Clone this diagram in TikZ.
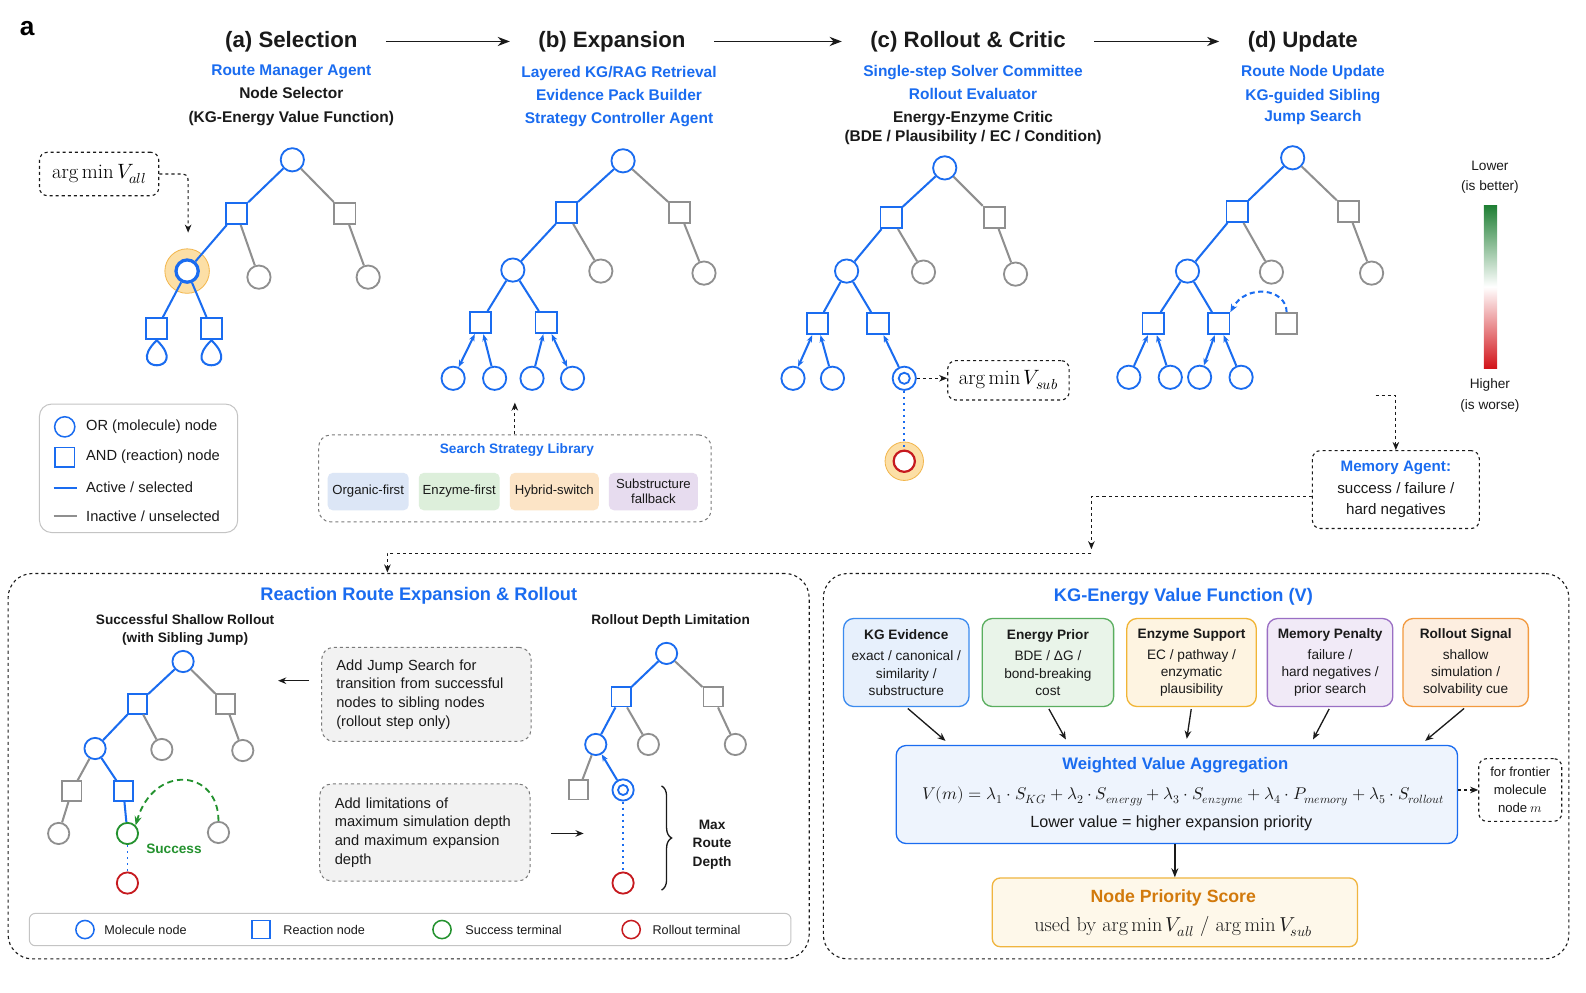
\documentclass[tikz,border=0pt]{standalone}
\usepackage{amsmath}
\usepackage{fontspec}
\usepackage{unicode-math}
\setmathfont{Latin Modern Math}
\setsansfont{Liberation Sans}
\usepackage{xcolor}
\usepackage{tikz}
\usetikzlibrary{calc,positioning,arrows.meta,decorations.pathreplacing}
\definecolor{rbblue}{HTML}{1A6CF0}
\definecolor{rbgray}{HTML}{8F8F8F}
\definecolor{rbdash}{HTML}{7A7A7A}
\definecolor{rbtext}{HTML}{1A1A1A}
\definecolor{rbred}{HTML}{C61A1F}
\definecolor{rbgreen}{HTML}{24922F}
\definecolor{rbhalo}{HTML}{FCDFA6}
\definecolor{rbhaloedge}{HTML}{F2B64C}
\definecolor{rborange}{HTML}{D27A0C}
\definecolor{cbgreen}{HTML}{1F7F34}
\definecolor{cbred}{HTML}{D2141A}
\definecolor{kgline}{HTML}{3C8BEF}
\definecolor{kgfill}{HTML}{E7F0FC}
\definecolor{enline}{HTML}{5AAE5F}
\definecolor{enfill}{HTML}{E9F4E9}
\definecolor{ezline}{HTML}{F1B536}
\definecolor{ezfill}{HTML}{FEF4E1}
\definecolor{mmline}{HTML}{9A6FC4}
\definecolor{mmfill}{HTML}{F1EAF7}
\definecolor{roline}{HTML}{F29A40}
\definecolor{rofill}{HTML}{FDEEE0}
\definecolor{chipblue}{HTML}{DCE6F6}
\definecolor{chipgreen}{HTML}{DDEFDB}
\definecolor{chiporange}{HTML}{FCE4C6}
\definecolor{chippurple}{HTML}{E7DCEF}
\definecolor{notefill}{HTML}{F2F2F2}
\definecolor{aggfill}{HTML}{EEF4FD}
\definecolor{prifill}{HTML}{FEF8EA}
\definecolor{priline}{HTML}{F0B540}
\definecolor{legline}{HTML}{C4C4C4}

\tikzset{
  ornode/.style={circle, draw=rbblue, fill=white, line width=1.8pt, minimum size=23pt, inner sep=0pt},
  andnode/.style={rectangle, draw=rbblue, fill=white, line width=1.8pt, minimum size=21pt, inner sep=0pt},
  offor/.style={ornode, draw=rbgray},
  offand/.style={andnode, draw=rbgray},
  hot/.style={draw=rbblue, line width=2pt},
  cold/.style={draw=rbgray, line width=2pt},
  backedge/.style={hot, -{Stealth[length=7pt,width=5.5pt]}},
  twoedge/.style={hot, {Stealth[length=7pt,width=5.5pt]}-{Stealth[length=7pt,width=5.5pt]}},
  dotlink/.style={draw=rbblue, line width=1.8pt, dash pattern=on 2pt off 4pt},
  halo/.style={circle, fill=rbhalo, draw=rbhaloedge, line width=0.8pt, minimum size=44pt, inner sep=0pt},
  linkdash/.style={draw=rbtext, dashed, line width=1.1pt, -{Stealth[length=8pt,width=6.5pt]}},
  stagearrow/.style={draw=rbtext, line width=1.9pt, -{Stealth[length=12pt,width=9pt]}, shorten <=28pt, shorten >=28pt},
  plainarrow/.style={draw=rbtext, line width=1.3pt, -{Stealth[length=8pt,width=6.5pt]}},
  dashbox/.style={draw=rbtext, dashed, line width=1.1pt, rounded corners=8pt, fill=white, inner sep=0pt},
  notebox/.style={draw=rbdash, dashed, line width=1pt, rounded corners=12pt, fill=notefill},
  bigframe/.style={draw=rbtext, dashed, line width=1.1pt, rounded corners=24pt},
  legframe/.style={draw=legline, line width=1pt, rounded corners=12pt},
  chip/.style={rounded corners=5pt, minimum height=37pt, inner sep=2pt, align=center, font=\sffamily\fontsize{13}{15}\selectfont, text=rbtext},
  kgbox/.style={rounded corners=10pt, line width=1.3pt, minimum width=124pt, minimum height=87pt, align=center, inner sep=2pt, font=\sffamily\fontsize{13.5}{17}\selectfont, text=rbtext},
  stagetitle/.style={inner sep=0pt, font=\sffamily\bfseries\fontsize{22}{26}\selectfont, text=rbtext},
  stagesub/.style={inner sep=0pt, anchor=north, align=center, font=\sffamily\bfseries\fontsize{15.3}{23}\selectfont, text=rbtext},
  legtxt/.style={inner sep=0pt, anchor=west, font=\sffamily\fontsize{14.5}{16}\selectfont, text=rbtext},
  smalltxt/.style={inner sep=0pt, anchor=west, font=\sffamily\fontsize{12.5}{15}\selectfont, text=rbtext},
  headtxt/.style={inner sep=0pt, align=center, font=\sffamily\bfseries\fontsize{13.5}{18}\selectfont, text=rbtext},
  bluehead/.style={inner sep=0pt, font=\sffamily\bfseries\fontsize{18}{22}\selectfont, text=rbblue},
}

\begin{document}
\begin{tikzpicture}[x=1pt, y=-1pt]
        \fill[white] (0,0) rectangle (1568,981);
        \useasboundingbox (0,0) rectangle (1568,981);

        \node[inner sep=0pt, font=\sffamily\bfseries\fontsize{26}{30}\selectfont] (panel) at (27,28) {a};

        % ----------------------------------------------------
        % STAGE HEADINGS
        % ----------------------------------------------------
        \node[stagetitle] (ta) at (288,41) {(a) Selection};
        \node[stagetitle] (tb) at (605,41) {(b) Expansion};
        \node[stagetitle] (tc) at (957,41) {(c) Rollout \& Critic};
        \node[stagetitle] (td) at (1288,41) {(d) Update};
        \draw[stagearrow] (ta) -- (tb);
        \draw[stagearrow] (tb) -- (tc);
        \draw[stagearrow] (tc) -- (td);

        \node[stagesub] (sa) at (288,64) {\textcolor{rbblue}{Route Manager Agent}\\Node Selector\\(KG-Energy Value Function)};
        \node[stagesub] (sb) at (612,65) {\textcolor{rbblue}{Layered KG/RAG Retrieval}\\\textcolor{rbblue}{Evidence Pack Builder}\\\textcolor{rbblue}{Strategy Controller Agent}};
        \node[stagesub] (sc) at (962,64) {\textcolor{rbblue}{Single-step Solver Committee}\\\textcolor{rbblue}{Rollout Evaluator}\\Energy-Enzyme Critic\\[-4pt](BDE / Plausibility / EC / Condition)};
        \node[stagesub, text=rbblue] (sd) at (1298,64) {Route Node Update\\[1pt]KG-guided Sibling\\[-2pt]Jump Search};

        % ----------------------------------------------------
        % (a) SELECTION TREE
        % ----------------------------------------------------
        \node[ornode] (a0) at (289,158) {};
        \node[andnode] (a1) at (234,211) {};
        \node[offand] (a2) at (341,211) {};
        \node[halo] (ahalo) at (185,268) {};
        \node[ornode, line width=3.2pt, minimum size=22pt] (a3) at (185,268) {};
        \node[offor] (a4) at (256,274) {};
        \node[offor] (a5) at (364,274) {};
        \node[andnode] (a6) at (155,325) {};
        \node[andnode] (a7) at (209,325) {};
        \draw[hot] (a0) -- (a1);
        \draw[cold] (a0) -- (a2);
        \draw[hot] (a1) -- (a3);
        \draw[cold] (a1) -- (a4);
        \draw[cold] (a2) -- (a5);
        \draw[hot] (a3) -- (a6);
        \draw[hot] (a3) -- (a7);
        \draw[hot] (a6.south) .. controls +(-34,33) and +(34,33) .. (a6.south);
        \draw[hot] (a7.south) .. controls +(-34,33) and +(34,33) .. (a7.south);

        \node[dashbox, minimum width=118pt, minimum height=43pt, font=\fontsize{20.5}{24}\selectfont] (argall) at (98,172) {$\arg\min V_{all}$};
        \coordinate (selpick) at (186,230);
        \draw[linkdash] (argall.east) -- (175,172) .. controls (186,172) .. (186,184) -- (selpick);

        % legend of the search tree
        \node[legframe, minimum width=196pt, minimum height=127pt] (lega) at (137,463) {};
        \node[ornode, minimum size=20pt, line width=1.5pt] (lgor) at (64,422) {};
        \node[legtxt] (lgortx) at (85,422) {OR (molecule) node};
        \node[andnode, minimum size=19pt, line width=1.5pt] (lgand) at (64,452) {};
        \node[legtxt] (lgandtx) at (85,452) {AND (reaction) node};
        \draw[hot] (53,482) -- (76,482);
        \node[legtxt] (lghot) at (85,482) {Active / selected};
        \draw[cold] (53,510) -- (76,510);
        \node[legtxt] (lgcold) at (85,510) {Inactive / unselected};

        % ----------------------------------------------------
        % (b) EXPANSION TREE
        % ----------------------------------------------------
        \node[ornode] (b0) at (616,159) {};
        \node[andnode] (b1) at (560,210) {};
        \node[offand] (b2) at (672,210) {};
        \node[ornode] (b3) at (507,267) {};
        \node[offor] (b4) at (594,268) {};
        \node[offor] (b5) at (696,270) {};
        \node[andnode] (b6) at (475,319) {};
        \node[andnode] (b7) at (540,319) {};
        \node[ornode] (b8) at (448,374) {};
        \node[ornode] (b9) at (489,374) {};
        \node[ornode] (b10) at (526,374) {};
        \node[ornode] (b11) at (566,374) {};
        \draw[hot] (b0) -- (b1);
        \draw[cold] (b0) -- (b2);
        \draw[hot] (b1) -- (b3);
        \draw[cold] (b1) -- (b4);
        \draw[cold] (b2) -- (b5);
        \draw[hot] (b3) -- (b6);
        \draw[hot] (b3) -- (b7);
        \draw[twoedge] (b6) -- (b8);
        \draw[backedge] (b9) -- (b6);
        \draw[backedge] (b10) -- (b7);
        \draw[twoedge] (b7) -- (b11);

        \node[notebox, fill=white, minimum width=388pt, minimum height=86pt] (lib) at (509,473) {};
        \node[inner sep=0pt, font=\sffamily\bfseries\fontsize{13.5}{16}\selectfont, text=rbblue] (libtitle) at (511,445) {Search Strategy Library};
        \node[chip, fill=chipblue, minimum width=80pt] (chorg) at (364,486) {Organic-first};
        \node[chip, fill=chipgreen, minimum width=80pt] (chenz) at (454,486) {Enzyme-first};
        \node[chip, fill=chiporange, minimum width=88pt] (chhyb) at (548,486) {Hybrid-switch};
        \node[chip, fill=chippurple, minimum width=88pt] (chsub) at (646,486) {Substructure\\fallback};
        \coordinate (libtip) at (509,398);
        \draw[linkdash] (lib.north) -- (libtip);

        % ----------------------------------------------------
        % (c) ROLLOUT & CRITIC TREE
        % ----------------------------------------------------
        \node[ornode] (c0) at (934,166) {};
        \node[andnode] (c1) at (881,215) {};
        \node[offand] (c2) at (983,215) {};
        \node[ornode] (c3) at (837,268) {};
        \node[offor] (c4) at (913,269) {};
        \node[offor] (c5) at (1004,271) {};
        \node[andnode] (c6) at (808,320) {};
        \node[andnode] (c7) at (868,320) {};
        \node[ornode] (c8) at (784,374) {};
        \node[ornode] (c9) at (823,374) {};
        \node[ornode] (c10) at (894,374) {};
        \draw[rbblue, line width=1.8pt] (c10) circle (5.5);
        \node[halo, minimum size=38pt] (c11halo) at (894,456) {};
        \node[ornode, draw=rbred, line width=2.2pt, minimum size=21pt] (c11) at (894,456) {};
        \draw[hot] (c0) -- (c1);
        \draw[cold] (c0) -- (c2);
        \draw[hot] (c1) -- (c3);
        \draw[cold] (c1) -- (c4);
        \draw[cold] (c2) -- (c5);
        \draw[hot] (c3) -- (c6);
        \draw[hot] (c3) -- (c7);
        \draw[twoedge] (c6) -- (c8);
        \draw[backedge] (c9) -- (c6);
        \draw[backedge] (c10) -- (c7);
        \draw[dotlink] (c10) -- (c11);

        \node[dashbox, minimum width=120pt, minimum height=39pt, font=\fontsize{20.5}{24}\selectfont] (argsub) at (997,376) {$\arg\min V_{sub}$};
        \draw[linkdash] (c10.east) -- (argsub.west |- c10.east);

        % ----------------------------------------------------
        % (d) UPDATE TREE
        % ----------------------------------------------------
        \node[ornode] (d0) at (1278,156) {};
        \node[andnode] (d1) at (1223,209) {};
        \node[offand] (d2) at (1333,209) {};
        \node[ornode] (d3) at (1174,268) {};
        \node[offor] (d4) at (1257,269) {};
        \node[offor] (d5) at (1356,270) {};
        \node[andnode] (d6) at (1140,320) {};
        \node[andnode] (d7) at (1205,320) {};
        \node[offand] (d8) at (1272,320) {};
        \node[ornode] (d9) at (1116,373) {};
        \node[ornode] (d10) at (1157,373) {};
        \node[ornode] (d11) at (1186,373) {};
        \node[ornode] (d12) at (1227,373) {};
        \draw[hot] (d0) -- (d1);
        \draw[cold] (d0) -- (d2);
        \draw[hot] (d1) -- (d3);
        \draw[cold] (d1) -- (d4);
        \draw[cold] (d2) -- (d5);
        \draw[hot] (d3) -- (d6);
        \draw[hot] (d3) -- (d7);
        \draw[backedge] (d9) -- (d6);
        \draw[backedge] (d10) -- (d6);
        \draw[twoedge] (d7) -- (d11);
        \draw[backedge] (d12) -- (d7);
        \draw[hot, dash pattern=on 5pt off 3.5pt, -{Stealth[length=8pt,width=6.5pt]}] (d8.north) .. controls (1272,285) and (1232,280) .. (d7.north east);

        % value scale
        \shade[top color=cbgreen, bottom color=cbred, middle color=white] (1467,203) rectangle (1480,364);
        \node[inner sep=0pt, align=center, font=\sffamily\fontsize{13.5}{20}\selectfont, text=rbtext] (lowtx) at (1473,175) {Lower\\(is better)};
        \node[inner sep=0pt, align=center, font=\sffamily\fontsize{13.5}{20}\selectfont, text=rbtext] (hightx) at (1473,391) {Higher\\(is worse)};

        % ----------------------------------------------------
        % MEMORY AGENT
        % ----------------------------------------------------
        \node[dashbox, minimum width=165pt, minimum height=77pt, align=center, font=\sffamily\fontsize{15}{21}\selectfont, text=rbtext] (mem) at (1380,484) {\textcolor{rbblue}{\bfseries Memory Agent:}\\success / failure /\\hard negatives};
        \coordinate (dtail) at (1360,391);
        \draw[linkdash] (dtail) -| (mem.north);
        \coordinate (mbend) at (1079,491);
        \coordinate (mjoin) at (1079,543);
        \coordinate (rtop) at (383,566);
        \draw[linkdash] (mem.west |- mbend) -- (mbend) -- (mjoin);
        \draw[linkdash] (1079,547) -| (rtop);

        % ----------------------------------------------------
        % REACTION ROUTE EXPANSION & ROLLOUT
        % ----------------------------------------------------
        \node[bigframe, minimum width=792pt, minimum height=381pt] (rre) at (404,757.5) {};
        \node[bluehead] (rretitle) at (414,589) {Reaction Route Expansion \& Rollout};
        \node[headtxt] (shallow) at (183,623) {Successful Shallow Rollout\\(with Sibling Jump)};
        \node[headtxt] (depthlim) at (663,614) {Rollout Depth Limitation};

        \node[ornode, minimum size=21pt] (l0) at (181,654) {};
        \node[andnode, minimum size=19pt] (l1) at (136,696) {};
        \node[offand, minimum size=19pt] (l2) at (223,696) {};
        \node[ornode, minimum size=21pt] (l3) at (94,740) {};
        \node[offor, minimum size=21pt] (l4) at (160,741) {};
        \node[offor, minimum size=21pt] (l5) at (240,742) {};
        \node[offand, minimum size=19pt] (l6) at (71,782) {};
        \node[andnode, minimum size=19pt] (l7) at (122,782) {};
        \node[offor, minimum size=21pt] (l8) at (58,824) {};
        \node[ornode, draw=rbgreen, minimum size=21pt] (l9) at (126,824) {};
        \node[offor, minimum size=21pt] (l10) at (216,823) {};
        \node[ornode, draw=rbred, minimum size=21pt] (l11) at (126,873) {};
        \draw[hot] (l0) -- (l1);
        \draw[cold] (l0) -- (l2);
        \draw[hot] (l1) -- (l3);
        \draw[cold] (l1) -- (l4);
        \draw[cold] (l2) -- (l5);
        \draw[cold] (l3) -- (l6);
        \draw[hot] (l3) -- (l7);
        \draw[cold] (l6) -- (l8);
        \draw[hot] (l7) -- (l9);
        \draw[dotlink] (l9) -- (l11);
        \draw[rbgreen, line width=1.8pt, dash pattern=on 6pt off 4pt, -{Stealth[length=9pt,width=7pt]}] (l10.north) .. controls (216,760) and (152,755) .. (l9.north east);
        \node[inner sep=0pt, font=\sffamily\bfseries\fontsize{13.5}{16}\selectfont, text=rbgreen] (success) at (172,839) {Success};

        \node[notebox, text width=178pt, inner xsep=14.5pt, minimum height=93pt, align=left, font=\sffamily\fontsize{14.5}{18.5}\selectfont, text=rbtext] (jump) at (421.5,686.5) {Add Jump Search for\\transition from successful\\nodes to sibling nodes\\(rollout step only)};
        \node[notebox, text width=178pt, inner xsep=15pt, minimum height=96pt, align=left, font=\sffamily\fontsize{14.5}{18.5}\selectfont, text=rbtext] (limit) at (420,823) {Add limitations of\\maximum simulation depth\\and maximum expansion\\depth};
        \coordinate (jumptip) at (275,673);
        \coordinate (limtip) at (577,824);
        \draw[plainarrow, shorten <=12pt] (jump.west |- jumptip) -- (jumptip);
        \draw[plainarrow, shorten <=20pt] (limit.east |- limtip) -- (limtip);

        \node[ornode, minimum size=21pt] (r0) at (659,646) {};
        \node[andnode, minimum size=19pt] (r1) at (614,689) {};
        \node[offand, minimum size=19pt] (r2) at (705,689) {};
        \node[ornode, minimum size=21pt] (r3) at (589,736) {};
        \node[offor, minimum size=21pt] (r4) at (641,736) {};
        \node[offor, minimum size=21pt] (r5) at (727,736) {};
        \node[offand, minimum size=19pt] (r6) at (572,781) {};
        \node[ornode, minimum size=21pt] (r7) at (616,781) {};
        \draw[rbblue, line width=1.8pt] (r7) circle (5);
        \node[ornode, draw=rbred, minimum size=21pt] (r8) at (616,873) {};
        \draw[hot] (r0) -- (r1);
        \draw[cold] (r0) -- (r2);
        \draw[hot] (r1) -- (r3);
        \draw[cold] (r1) -- (r4);
        \draw[cold] (r2) -- (r5);
        \draw[cold] (r3) -- (r6);
        \draw[backedge] (r7) -- (r3);
        \draw[dotlink] (r7) -- (r8);
        \draw[rbtext, line width=1.3pt, decorate, decoration={brace, amplitude=10pt}] (654,777) -- (654,880);
        \node[headtxt] (maxdepth) at (704,835) {Max\\Route\\Depth};

        % legend of the route panel
        \node[legframe, rounded corners=6pt, minimum width=753pt, minimum height=32pt] (legb) at (405.5,919) {};
        \node[ornode, minimum size=18pt, line width=1.5pt] (lbmol) at (84,919) {};
        \node[smalltxt] (lbmoltx) at (103,919) {Molecule node};
        \node[andnode, minimum size=18pt, line width=1.5pt] (lbrxn) at (258,919) {};
        \node[smalltxt] (lbrxntx) at (280,919) {Reaction node};
        \node[ornode, draw=rbgreen, minimum size=18pt, line width=1.5pt] (lbok) at (437,919) {};
        \node[smalltxt] (lboktx) at (460,919) {Success terminal};
        \node[ornode, draw=rbred, minimum size=18pt, line width=1.5pt] (lbend) at (624,919) {};
        \node[smalltxt] (lbendtx) at (645,919) {Rollout terminal};

        % ----------------------------------------------------
        % KG-ENERGY VALUE FUNCTION
        % ----------------------------------------------------
        \node[bigframe, minimum width=737pt, minimum height=381pt] (kgv) at (1182.5,757.5) {};
        \node[bluehead] (kgvtitle) at (1170,590) {KG-Energy Value Function (V)};

        \node[kgbox, draw=kgline, fill=kgfill] (kge) at (896,655) {{\bfseries KG Evidence}\\[4pt]exact / canonical /\\similarity /\\substructure};
        \node[kgbox, draw=enline, fill=enfill, minimum width=130pt] (enp) at (1036,655) {{\bfseries Energy Prior}\\[4pt]BDE / ΔG /\\bond-breaking\\cost};
        \node[kgbox, draw=ezline, fill=ezfill, minimum width=128pt] (ezs) at (1178,655) {{\bfseries Enzyme Support}\\[4pt]EC / pathway /\\enzymatic\\plausibility};
        \node[kgbox, draw=mmline, fill=mmfill] (mmp) at (1315,655) {{\bfseries Memory Penalty}\\[4pt]failure /\\hard negatives /\\prior search};
        \node[kgbox, draw=roline, fill=rofill] (ros) at (1449,655) {{\bfseries Rollout Signal}\\[4pt]shallow\\simulation /\\solvability cue};

        \node[rounded corners=10pt, draw=rbblue, line width=1.3pt, fill=aggfill, minimum width=555pt, minimum height=97pt] (agg) at (1163.5,785.5) {};
        \node[inner sep=0pt, font=\sffamily\bfseries\fontsize{16.5}{20}\selectfont, text=rbblue] (aggtitle) at (1162,757) {Weighted Value Aggregation};
        \node[inner sep=0pt, font=\fontsize{16.8}{20}\selectfont, text=rbtext] (aggeq) at (1170,787) {$V(m) = \lambda_1 \cdot S_{KG} + \lambda_2 \cdot S_{energy} + \lambda_3 \cdot S_{enzyme} + \lambda_4 \cdot P_{memory} + \lambda_5 \cdot S_{rollout}$};
        \node[inner sep=0pt, font=\sffamily\fontsize{16}{20}\selectfont, text=rbtext] (aggnote) at (1158,814) {Lower value = higher expansion priority};

        \draw[plainarrow, shorten <=2pt, shorten >=6pt] (kge.south) -- ($(agg.north west)!0.097!(agg.north east)$);
        \draw[plainarrow, shorten <=2pt, shorten >=6pt] (enp.south) -- ($(agg.north west)!0.308!(agg.north east)$);
        \draw[plainarrow, shorten <=2pt, shorten >=6pt] (ezs.south) -- ($(agg.north west)!0.516!(agg.north east)$);
        \draw[plainarrow, shorten <=2pt, shorten >=6pt] (mmp.south) -- ($(agg.north west)!0.737!(agg.north east)$);
        \draw[plainarrow, shorten <=2pt, shorten >=6pt] (ros.south) -- ($(agg.north west)!0.933!(agg.north east)$);

        \node[dashbox, minimum width=82pt, minimum height=62pt, align=center, font=\sffamily\fontsize{13}{17.5}\selectfont, text=rbtext] (front) at (1503,781) {for frontier\\molecule\\node $m$};
        \draw[linkdash] (agg.east |- front.west) -- (front.west);

        \node[rounded corners=8pt, draw=priline, line width=1.3pt, fill=prifill, minimum width=361pt, minimum height=68pt] (prio) at (1161.5,902) {};
        \node[inner sep=0pt, font=\sffamily\bfseries\fontsize{17.5}{20}\selectfont, text=rborange] (priotitle) at (1160,888) {Node Priority Score};
        \node[inner sep=0pt, font=\fontsize{20}{22}\selectfont, text=rbtext] (prionote) at (1160,916) {used by $\arg\min V_{all}$ / $\arg\min V_{sub}$};
        \draw[draw=rbtext, line width=1.5pt, -{Stealth[length=9pt,width=7pt]}] (agg.south -| prio.north) -- (prio.north);
\end{tikzpicture}
\end{document}
